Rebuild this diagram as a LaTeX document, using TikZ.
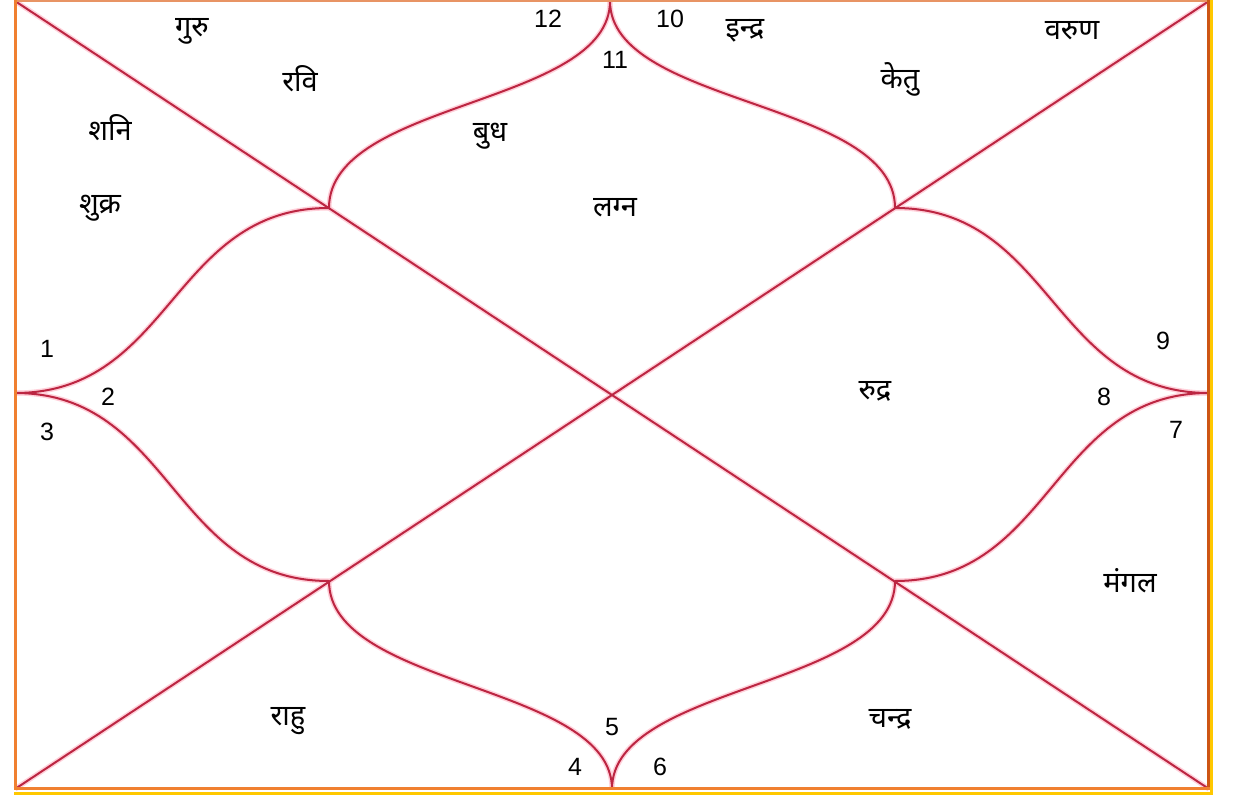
\documentclass[tikz,border=0pt]{standalone}
\usepackage{fontspec}
\setmainfont{Liberation Sans}
\newfontfamily\dev[Script=Devanagari]{Noto Sans}
\definecolor{chartline}{RGB}{188,38,66}
\definecolor{halo}{RGB}{255,208,218}
\definecolor{frameor}{RGB}{240,128,48}
\definecolor{frametop}{RGB}{232,148,100}
\definecolor{framebr}{RGB}{205,85,20}
\definecolor{frameyel}{RGB}{255,200,0}
\begin{document}
\begin{tikzpicture}[x=1pt,y=-1pt,
  chart/.style={draw=chartline,line width=2pt},
  glow/.style={draw=halo,line width=5pt},
  num/.style={font=\fontsize{25}{25}\selectfont,inner sep=0pt},
  planet/.style={font=\dev\fontsize{29}{29}\selectfont,inner sep=0pt}]
\useasboundingbox (0,0) rectangle (1236,799);
\fill[white] (0,0) rectangle (1236,799);
% corner and key points
\coordinate (TL) at (15,1);
\coordinate (TR) at (1209,1);
\coordinate (BL) at (15,789);
\coordinate (BR) at (1209,789);
\coordinate (T) at (610,1);
\coordinate (B) at (612,789);
\coordinate (L) at (15,393);
\coordinate (R) at (1209,393);
\coordinate (P1) at (329,208);
\coordinate (P2) at (895,208);
\coordinate (P3) at (329,581);
\coordinate (P4) at (895,581);
% lines with light halo
\foreach \sty in {glow,chart}{
  \path[\sty] (TL) -- (BR);
  \path[\sty] (TR) -- (BL);
  \path[\sty] (T) .. controls (610,106) and (329,100) .. (P1);
  \path[\sty] (T) .. controls (610,106) and (895,100) .. (P2);
  \path[\sty] (L) .. controls (172,393) and (172,208) .. (P1);
  \path[\sty] (L) .. controls (172,393) and (172,581) .. (P3);
  \path[\sty] (B) .. controls (612,684) and (329,688) .. (P3);
  \path[\sty] (B) .. controls (612,684) and (895,688) .. (P4);
  \path[\sty] (R) .. controls (1052,393) and (1052,208) .. (P2);
  \path[\sty] (R) .. controls (1052,393) and (1052,581) .. (P4);
}
% frame
\draw[frameyel,line width=3pt] (1211,0) -- (1211,793) -- (14,793);
\draw[frametop,line width=3pt] (14,1) -- (1209,1);
\draw[frameor,line width=3pt] (15.5,0) -- (15.5,790);
\draw[framebr,line width=3pt] (1208.5,0) -- (1208.5,790);
\draw[frameor,line width=3pt] (14,788.5) -- (1210,788.5);
% numbers
\node[num] (n12) at (548,19) {12};
\node[num] (n10) at (670,19) {10};
\node[num] (n11) at (615,60) {11};
\node[num] (n1) at (47,349) {1};
\node[num] (n2) at (108,397) {2};
\node[num] (n3) at (47,432) {3};
\node[num] (n9) at (1163,341) {9};
\node[num] (n8) at (1104,397) {8};
\node[num] (n7) at (1176,430) {7};
\node[num] (n5) at (612,727) {5};
\node[num] (n4) at (575,767) {4};
\node[num] (n6) at (660,767) {6};
% planets
\node[planet] (guru) at (192,31) {गुरु};
\node[planet] (ravi) at (300,79) {रवि};
\node[planet] (shani) at (110,128) {शनि};
\node[planet] (shukra) at (100,208) {शुक्र};
\node[planet] (budh) at (490,136) {बुध};
\node[planet] (lagna) at (615,208) {लग्न};
\node[planet] (indra) at (745,31) {इन्द्र};
\node[planet] (ketu) at (900,79) {केतु};
\node[planet] (varun) at (1072,31) {वरुण};
\node[planet] (rudra) at (875,391) {रुद्र};
\node[planet] (mangal) at (1130,581) {मंगल};
\node[planet] (rahu) at (288,721) {राहु};
\node[planet] (chandra) at (890,719) {चन्द्र};
\end{tikzpicture}
\end{document}
